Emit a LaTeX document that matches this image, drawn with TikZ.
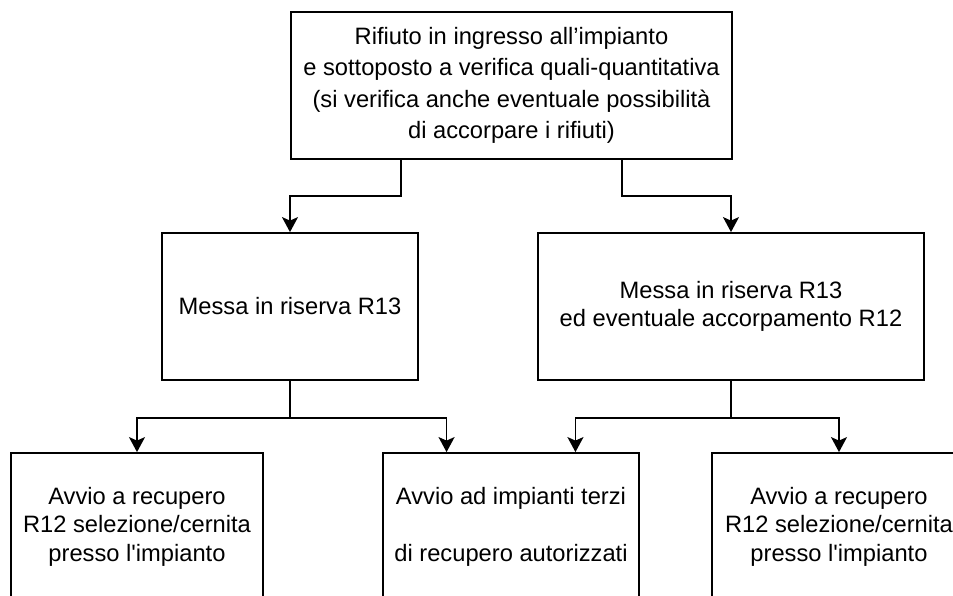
\documentclass[tikz,border=0pt]{standalone}
\usepackage{fontspec}
\setmainfont{Liberation Sans}
\usetikzlibrary{arrows.meta, positioning, calc}

\begin{document}
\begin{tikzpicture}[x=1pt, y=-1pt,
  box/.style={draw, line width=1.8pt, align=center, inner sep=0pt,
    minimum height=147pt, font=\fontsize{23.7}{28.5}\selectfont},
  flow/.style={line width=1.8pt, -{Stealth[length=15pt, width=16pt, inset=3.5pt]}}]
  \useasboundingbox (0,0) rectangle (953,596);
  \clip (0,0) rectangle (953,596);
  % top box
  \node[box, minimum width=441pt, font=\fontsize{23.7}{31.5}\selectfont] (ingresso) at (511.5,85.5)
    {Rifiuto in ingresso all’impianto\\e sottoposto a verifica quali-quantitativa\\(si verifica anche eventuale possibilità\\di accorpare i rifiuti)};
  % middle row
  \node[box, minimum width=256pt] (riservaA) at (290,306.5) {Messa in riserva R13};
  \node[box, minimum width=386pt] (riservaB) at (731,306.5) {Messa in riserva R13\\ed eventuale accorpamento R12};
  % bottom row
  \node[box, minimum width=252pt] (recuperoA) at (137,526.5) {Avvio a recupero\\R12 selezione/cernita\\presso l\textquotesingle impianto};
  \node[box, minimum width=256pt] (terzi) at (511,526.5) {Avvio ad impianti terzi\\[28.5pt]di recupero autorizzati};
  \node[box, minimum width=254pt] (recuperoB) at (839,526.5) {Avvio a recupero\\R12 selezione/cernita\\presso l\textquotesingle impianto};
  % connectors
  \draw[flow] ($(ingresso.south west)!0.25!(ingresso.south east)$) -- ++(0,36) -| (riservaA.north);
  \draw[flow] ($(ingresso.south west)!0.75!(ingresso.south east)$) -- ++(0,36) -| (riservaB.north);
  \draw[flow] (riservaA.south) -- ++(0,37) -| (recuperoA.north);
  \draw[flow] (riservaA.south) -- ++(0,37) -| ($(terzi.north west)!0.25!(terzi.north east)$);
  \draw[flow] (riservaB.south) -- ++(0,37) -| ($(terzi.north west)!0.75!(terzi.north east)$);
  \draw[flow] (riservaB.south) -- ++(0,37) -| (recuperoB.north);
\end{tikzpicture}
\end{document}
